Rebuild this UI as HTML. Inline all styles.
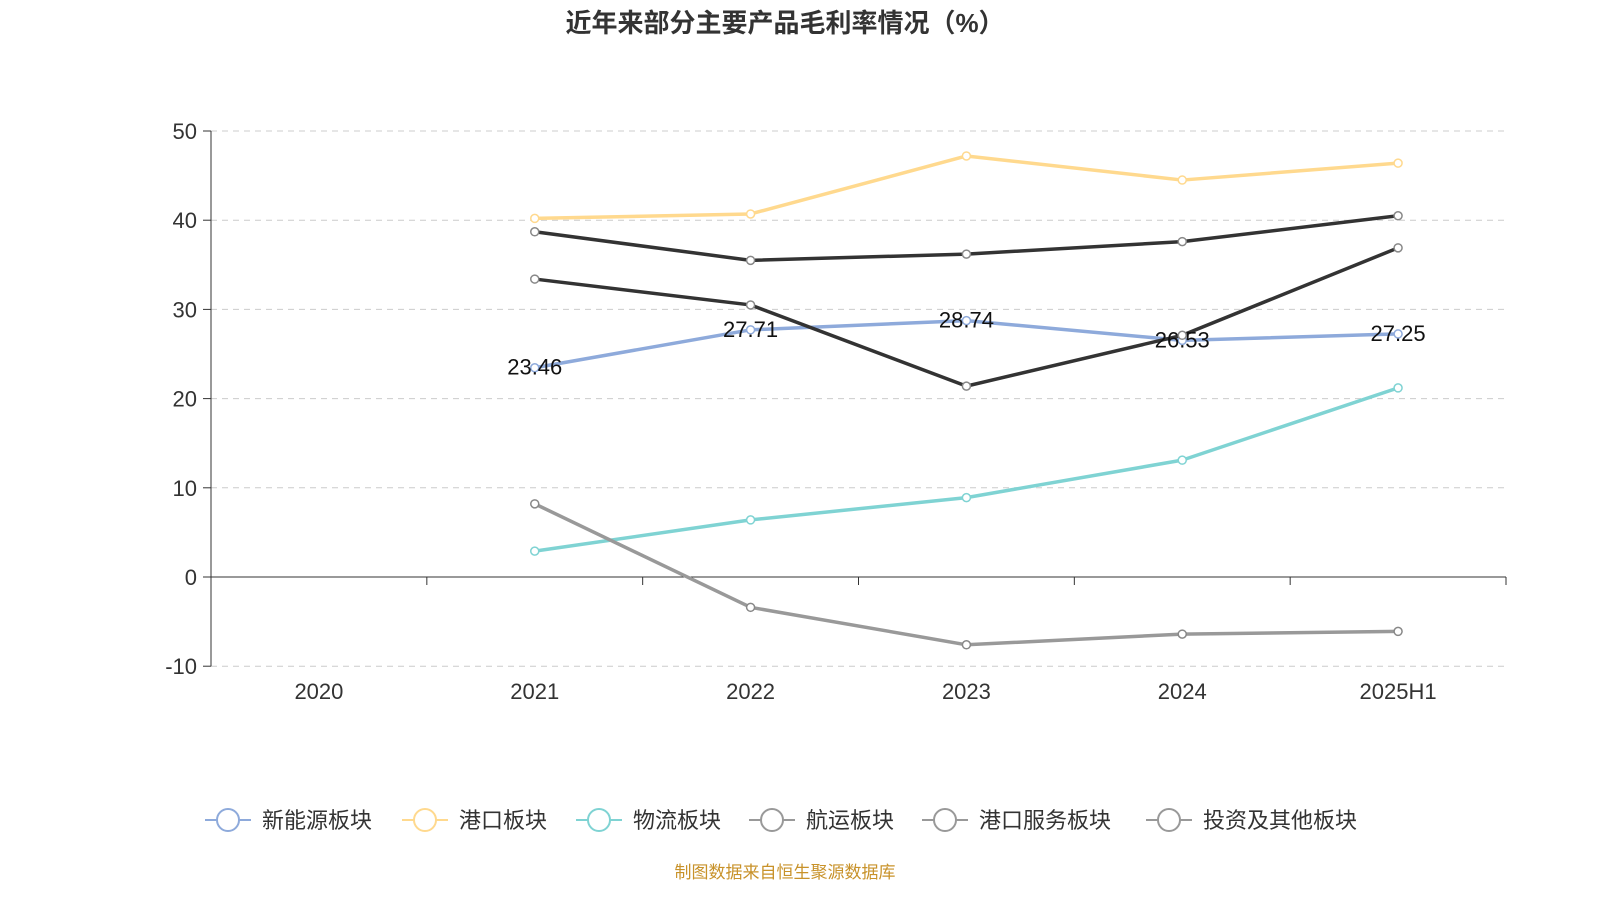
<!DOCTYPE html>
<html><head><meta charset="utf-8">
<style>
body{margin:0;width:1600px;height:900px;background:#fff;font-family:"Liberation Sans","Noto Sans CJK SC",sans-serif;overflow:hidden}
</style></head>
<body>
<svg id="chart" width="1600" height="900" xmlns="http://www.w3.org/2000/svg" style="font-family:'Liberation Sans','Noto Sans CJK SC',sans-serif">
<text x="785" y="32" text-anchor="middle" font-size="26" font-weight="bold" fill="#333">近年来部分主要产品毛利率情况（%）</text>
<g id="grid"></g><g id="axes"></g><g id="series"></g><g id="legend"></g>
<text x="785" y="878" text-anchor="middle" font-size="17" fill="#c8922a">制图数据来自恒生聚源数据库</text>
</svg>
<script>
const categories=["2020","2021","2022","2023","2024","2025H1"];
const yTicks=[50,40,30,20,10,0,-10];
const seriesNames=["新能源板块","港口板块","物流板块","航运板块","港口服务板块","投资及其他板块"];
const sNewEnergy=[null,23.46,27.71,28.74,26.53,27.25];
const sPort=[null,40.2,40.7,47.2,44.5,46.4];
const sLogistics=[null,2.9,6.4,8.9,13.1,21.2];
const sShipping=[null,38.7,35.5,36.2,37.6,40.5];
const sPortService=[null,33.4,30.5,21.4,27.1,36.9];
const sInvest=[null,8.2,-3.4,-7.6,-6.4,-6.1];
const allSeries=[sNewEnergy,sPort,sLogistics,sShipping,sPortService,sInvest];
const colors=["#8eaadb","#ffd98e","#7fd3d3","#333333","#333333","#999999"];
const legendColors=["#8eaadb","#ffd98e","#7fd3d3","#999999","#999999","#999999"];
const NS="http://www.w3.org/2000/svg";
const L=211,R=1506,bw=(R-L)/categories.length;
const X=i=>L+bw*(i+0.5);
const Y=v=>577-v*8.92;
function mk(t,a,p){const e=document.createElementNS(NS,t);for(const k in a)e.setAttribute(k,a[k]);p.appendChild(e);return e;}
const grid=document.getElementById('grid'),axes=document.getElementById('axes'),ser=document.getElementById('series'),leg=document.getElementById('legend');
yTicks.forEach(v=>{
 if(v!==0){const g=mk('line',{x1:L,x2:R,y1:Y(v),y2:Y(v),stroke:'#ccc','stroke-dasharray':'6,5'},grid);
 
 }
 mk('line',{x1:L-8,x2:L,y1:Y(v),y2:Y(v),stroke:'#333'},axes);
 const t=mk('text',{x:L-14,y:Y(v)+8,'text-anchor':'end','font-size':22,fill:'#333'},axes);t.textContent=v;
 
 
});
mk('line',{x1:L,x2:L,y1:Y(50),y2:Y(-10),stroke:'#333'},axes);
mk('line',{x1:L,x2:R,y1:Y(0),y2:Y(0),stroke:'#333'},axes);
for(let i=0;i<=categories.length;i++){mk('line',{x1:L+bw*i,x2:L+bw*i,y1:Y(0),y2:Y(0)+8,stroke:'#333'},axes);}
categories.forEach((c,i)=>{const t=mk('text',{x:X(i),y:699,'text-anchor':'middle','font-size':22,fill:'#333'},axes);t.textContent=c;
 
 });
allSeries.forEach((s,k)=>{
 const pts=[];s.forEach((v,i)=>{if(v!==null)pts.push([X(i),Y(v)]);});
 const p=mk('polyline',{points:pts.map(p=>p.join(',')).join(' '),fill:'none',stroke:colors[k],'stroke-width':3.5,'stroke-linejoin':'round'},ser);
 
 
 pts.forEach(q=>{const c=mk('circle',{cx:q[0],cy:q[1],r:4,fill:'#fff',stroke:k>=3?'#888':colors[k],'stroke-width':1.5},ser);
 
 });
});
sNewEnergy.forEach((v,i)=>{if(v===null)return;const t=mk('text',{x:X(i),y:Y(v)+7,'text-anchor':'middle','font-size':22,fill:'#111'},ser);t.textContent=v.toFixed(2);
 
 });
const lx=[205,402,576,749,922,1146];
seriesNames.forEach((n,k)=>{
 const g=mk('g',{},leg);
 
 
 mk('line',{x1:lx[k],x2:lx[k]+46,y1:820,y2:820,stroke:legendColors[k],'stroke-width':2},g);
 mk('circle',{cx:lx[k]+23,cy:820,r:11,fill:'#fff',stroke:legendColors[k],'stroke-width':2},g);
 const t=mk('text',{x:lx[k]+57,y:828,'font-size':22,fill:'#333'},g);t.textContent=n;
});
</script>
</body></html>
